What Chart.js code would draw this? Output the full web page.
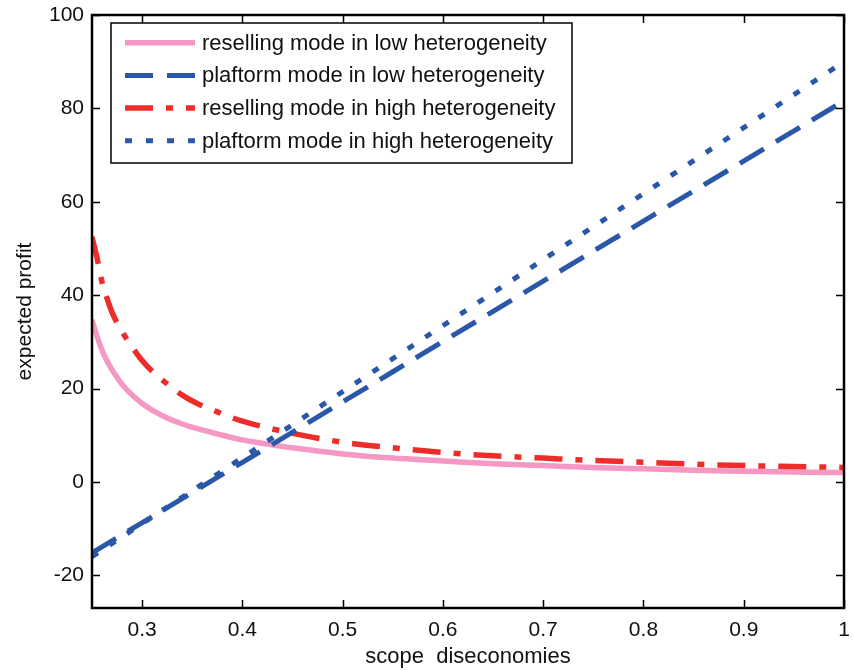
<!DOCTYPE html>
<html>
<head>
<meta charset="utf-8">
<script src="https://cdn.jsdelivr.net/npm/chart.js@4/dist/chart.umd.min.js"></script>
<style>
  body { margin: 0; background: #fff; }
  canvas { display: block; }
</style>
</head>
<body>
<canvas id="profit" width="853" height="670"></canvas>
<script>
// scope diseconomies (x) for the reselling curves
const xCurve = [0.25, 0.255, 0.26, 0.265, 0.27, 0.28, 0.29, 0.30, 0.31, 0.325, 0.34, 0.355, 0.375,
  0.40, 0.425, 0.45, 0.50, 0.55, 0.60, 0.65, 0.70, 0.75, 0.80, 0.85, 0.90, 0.95, 1.00];
const resellLow = [34.7, 31.2, 28.2, 25.9, 24.0, 20.9, 18.6, 16.8, 15.4, 13.7, 12.4, 11.4, 10.3,
  9.0, 8.1, 7.3, 6.0, 5.1, 4.5, 3.9, 3.5, 3.1, 2.8, 2.5, 2.3, 2.1, 2.0];
const resellHigh = [52.5, 48.0, 42.8, 39.3, 36.3, 32.2, 28.9, 26.0, 23.7, 21.0, 18.6, 16.8, 15.0,
  13.0, 11.6, 10.4, 8.5, 7.3, 6.3, 5.6, 5.1, 4.6, 4.2, 3.8, 3.5, 3.3, 3.1];

// platform curves are straight, a few points are enough
const xLine = [0.25, 0.40, 0.55, 0.70, 0.85, 1.00];
const platformLow = [-15.2, 4.2, 23.6, 43.0, 62.3, 81.6];
const platformHigh = [-16.0, 5.2, 26.4, 47.6, 68.8, 90.0];

const seriesNames = [
  'reselling mode in low heterogeneity',
  'plaftorm mode in low heterogeneity',
  'reselling mode in high heterogeneity',
  'plaftorm mode in high heterogeneity'
];

const xTicks = [0.3, 0.4, 0.5, 0.6, 0.7, 0.8, 0.9, 1];
const xTickLabels = ['0.3', '0.4', '0.5', '0.6', '0.7', '0.8', '0.9', '1'];
const yTicks = [-20, 0, 20, 40, 60, 80, 100];
const yTickLabels = ['-20', '0', '20', '40', '60', '80', '100'];

const FONT = 'Liberation Sans, Arial, Helvetica, sans-serif';

const pts = (xs, ys) => xs.map((x, i) => ({ x: x, y: ys[i] }));

// inward ticks on all four sides, the axes box and the legend in the upper left
const framePlugin = {
  id: 'frame',
  afterDraw(chart) {
    const ctx = chart.ctx;
    const a = chart.chartArea;
    const xs = chart.scales.x, ys = chart.scales.y;
    const tl = 8;
    ctx.save();
    ctx.strokeStyle = '#000';
    ctx.lineWidth = 1.5;
    ctx.beginPath();
    xTicks.forEach(v => {
      const px = Math.round(xs.getPixelForValue(v)) + 0.5;
      ctx.moveTo(px, a.bottom); ctx.lineTo(px, a.bottom - tl);
      ctx.moveTo(px, a.top); ctx.lineTo(px, a.top + tl);
    });
    yTicks.forEach(v => {
      const py = Math.round(ys.getPixelForValue(v)) + 0.5;
      ctx.moveTo(a.left, py); ctx.lineTo(a.left + tl, py);
      ctx.moveTo(a.right, py); ctx.lineTo(a.right - tl, py);
    });
    ctx.stroke();
    ctx.lineWidth = 2.5;
    ctx.strokeRect(a.left, a.top, a.right - a.left, a.bottom - a.top);

    // legend
    const bx = 111, by = 23, bw = 461, bh = 140;
    ctx.fillStyle = '#fff';
    ctx.fillRect(bx, by, bw, bh);
    ctx.lineWidth = 1.5;
    ctx.strokeStyle = '#000';
    ctx.strokeRect(bx, by, bw, bh);
    ctx.font = '22px ' + FONT;
    ctx.textBaseline = 'middle';
    ctx.textAlign = 'left';
    chart.data.datasets.forEach((ds, i) => {
      const y = 42.7 + i * 32.7;
      ctx.strokeStyle = ds.borderColor;
      ctx.lineWidth = ds.borderWidth;
      ctx.lineCap = 'butt';
      ctx.setLineDash(ds.borderDash || []);
      ctx.beginPath();
      ctx.moveTo(125, y); ctx.lineTo(195, y);
      ctx.stroke();
      ctx.setLineDash([]);
      ctx.fillStyle = '#111';
      ctx.fillText(ds.label, 202, y + 1);
    });
    ctx.restore();
  }
};

new Chart(document.getElementById('profit'), {
  type: 'line',
  data: {
    datasets: [
      {
        label: seriesNames[0],
        data: pts(xCurve, resellLow),
        borderColor: '#F598C3',
        borderWidth: 5.5,
        cubicInterpolationMode: 'monotone',
        order: 4
      },
      {
        label: seriesNames[1],
        data: pts(xLine, platformLow),
        borderColor: '#2B57A8',
        borderWidth: 5,
        borderDash: [28, 14],
        tension: 0,
        order: 2
      },
      {
        label: seriesNames[2],
        data: pts(xCurve, resellHigh),
        borderColor: '#EE2D2A',
        borderWidth: 5.5,
        borderDash: [28, 13, 7, 13],
        cubicInterpolationMode: 'monotone',
        order: 3
      },
      {
        label: seriesNames[3],
        data: pts(xLine, platformHigh),
        borderColor: '#2B57A8',
        borderWidth: 5,
        borderDash: [7, 14],
        tension: 0,
        order: 1
      }
    ]
  },
  options: {
    responsive: false,
    animation: false,
    devicePixelRatio: 1,
    layout: { autoPadding: false, padding: { top: 15, right: 9, left: 0, bottom: 0 } },
    elements: { point: { radius: 0 }, line: { borderCapStyle: 'butt', fill: false } },
    plugins: { legend: { display: false }, tooltip: { enabled: false } },
    scales: {
      x: {
        type: 'linear',
        min: 0.25,
        max: 1,
        afterFit(s) { s.height = 62; s.paddingLeft = 0; s.paddingRight = 0; },
        afterBuildTicks(s) { s.ticks = xTicks.map(v => ({ value: v })); },
        grid: { display: false, drawTicks: false },
        border: { display: false },
        ticks: {
          padding: 10,
          color: '#111',
          font: { family: FONT, size: 21 },
          maxRotation: 0,
          autoSkip: false,
          callback: (v, i) => xTickLabels[i]
        },
        title: {
          display: true,
          text: 'scope  diseconomies',
          color: '#111',
          font: { family: FONT, size: 22 },
          padding: { top: 0, bottom: 0 }
        }
      },
      y: {
        type: 'linear',
        min: -27,
        max: 100,
        afterFit(s) { s.width = 92; s.paddingTop = 0; s.paddingBottom = 0; },
        afterBuildTicks(s) { s.ticks = yTicks.map(v => ({ value: v })); },
        grid: { display: false, drawTicks: false },
        border: { display: false },
        ticks: {
          padding: 8,
          color: '#111',
          font: { family: FONT, size: 21 },
          autoSkip: false,
          callback: (v, i) => yTickLabels[i]
        },
        title: {
          display: true,
          text: 'expected profit',
          color: '#111',
          font: { family: FONT, size: 21 },
          padding: { top: 13, bottom: 0 }
        }
      }
    }
  },
  plugins: [framePlugin]
});
</script>
</body>
</html>
